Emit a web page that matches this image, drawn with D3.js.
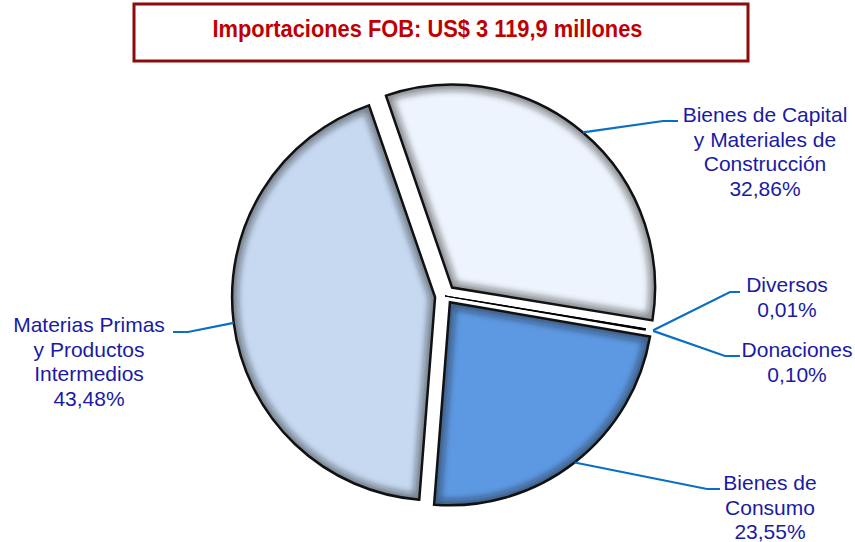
<!DOCTYPE html>
<html><head><meta charset="utf-8">
<script src="https://cdn.jsdelivr.net/npm/d3@7"></script>
<style>
html,body{margin:0;padding:0;background:#fff;}
svg{display:block;}
</style></head>
<body>
<svg id="chart" width="855" height="542"></svg>
<script>
// ---- data ----
const title = "Importaciones FOB: US$ 3 119,9 millones";
const categories = ["Bienes de Capital y Materiales de Construcción", "Diversos", "Donaciones", "Bienes de Consumo", "Materias Primas y Productos Intermedios"];
const values = [32.86, 0.01, 0.10, 23.55, 43.48];
const valueLabels = ["32,86%", "0,01%", "0,10%", "23,55%", "43,48%"];
const labelLines = [
  ["Bienes de Capital", "y Materiales de", "Construcción", "32,86%"],
  ["Diversos", "0,01%"],
  ["Donaciones", "0,10%"],
  ["Bienes de", "Consumo", "23,55%"],
  ["Materias Primas", "y Productos", "Intermedios", "43,48%"]
];
const fills = ["#eef4fd", "#eef4fd", "#eef4fd", "#5d98e2", "#c6d9f1"];
// ---- layout ----
const explode = [11, 0, 0, 8, 10];
const anchorR = [0, 8, 8, 0, 0];
const labelLayout = [
  {ex: 663, ey: 121, hx: 678, tx: 765, ty: 122},
  {ex: 730, ey: 292, hx: 740, tx: 787, ty: 292},
  {ex: 725, ey: 356, hx: 740, tx: 797, ty: 357},
  {ex: 707, ey: 489, hx: 720, tx: 770, ty: 490},
  {ex: 188, ey: 332, hx: 173, tx: 89, ty: 332}
];

const svg = d3.select("#chart");
const cx = 445, cy = 296, R = 203;
const startA = -19 * Math.PI / 180;

// title box
svg.append("rect").attr("x", 134).attr("y", 4).attr("width", 614).attr("height", 57)
  .attr("fill", "#fff").attr("stroke", "#8e0b0b").attr("stroke-width", 3);
svg.append("text").attr("x", 427.5).attr("y", 37).attr("text-anchor", "middle")
  .attr("font-family", "'Liberation Sans Narrow','Arial Narrow','Liberation Sans',sans-serif")
  .attr("font-weight", "bold").attr("font-size", 24).attr("fill", "#c00000")
  .attr("textLength", 430).attr("lengthAdjust", "spacingAndGlyphs")
  .text(title);

const defs = svg.append("defs");
defs.append("filter").attr("id", "blur").attr("x", "-20%").attr("y", "-20%").attr("width", "140%").attr("height", "140%")
  .append("feGaussianBlur").attr("stdDeviation", 3);

const pie = d3.pie().sort(null).value(d => d).startAngle(startA).endAngle(startA + 2 * Math.PI);
const arcs = pie(values);
const arc = d3.arc().innerRadius(0).outerRadius(R);

const g = svg.append("g");
arcs.forEach((a, i) => {
  const mid = (a.startAngle + a.endAngle) / 2;
  const ox = cx + explode[i] * Math.sin(mid);
  const oy = cy - explode[i] * Math.cos(mid);
  const sg = g.append("g").attr("transform", `translate(${ox},${oy})`);
  const d = arc(a);
  if (values[i] < 1) {
    sg.append("path").attr("d", d).attr("fill", "#000").attr("stroke", "#000").attr("stroke-width", 1.2);
    return;
  }
  defs.append("clipPath").attr("id", "clip" + i).append("path").attr("d", d);
  sg.append("path").attr("d", d).attr("fill", fills[i]);
  sg.append("path").attr("d", d).attr("fill", "none")
    .attr("stroke", "#1a1a1a").attr("stroke-opacity", 0.45).attr("stroke-width", 12)
    .attr("filter", "url(#blur)").attr("clip-path", `url(#clip${i})`);
  sg.append("path").attr("d", d).attr("fill", "none")
    .attr("stroke", "#111").attr("stroke-width", 2.5).attr("stroke-linejoin", "miter");
});

// leader lines and labels
arcs.forEach((a, i) => {
  const mid = (a.startAngle + a.endAngle) / 2;
  const ox = cx + explode[i] * Math.sin(mid);
  const oy = cy - explode[i] * Math.cos(mid);
  const rr = R + anchorR[i];
  const ax = ox + rr * Math.sin(mid), ay = oy - rr * Math.cos(mid);
  const L = labelLayout[i];
  svg.append("polyline")
    .attr("points", `${ax},${ay} ${L.ex},${L.ey} ${L.hx},${L.ey}`)
    .attr("fill", "none").attr("stroke", "#0a6fc4").attr("stroke-width", 2.2);
  const t = svg.append("text").attr("text-anchor", "middle")
    .attr("font-family", "'Liberation Sans',Arial,sans-serif").attr("font-size", 21)
    .attr("fill", "#1a1aa4");
  labelLines[i].forEach((s, k) => {
    t.append("tspan").attr("x", L.tx).attr("y", L.ty + k * 24.5).text(s);
  });
});
</script>
</body></html>
